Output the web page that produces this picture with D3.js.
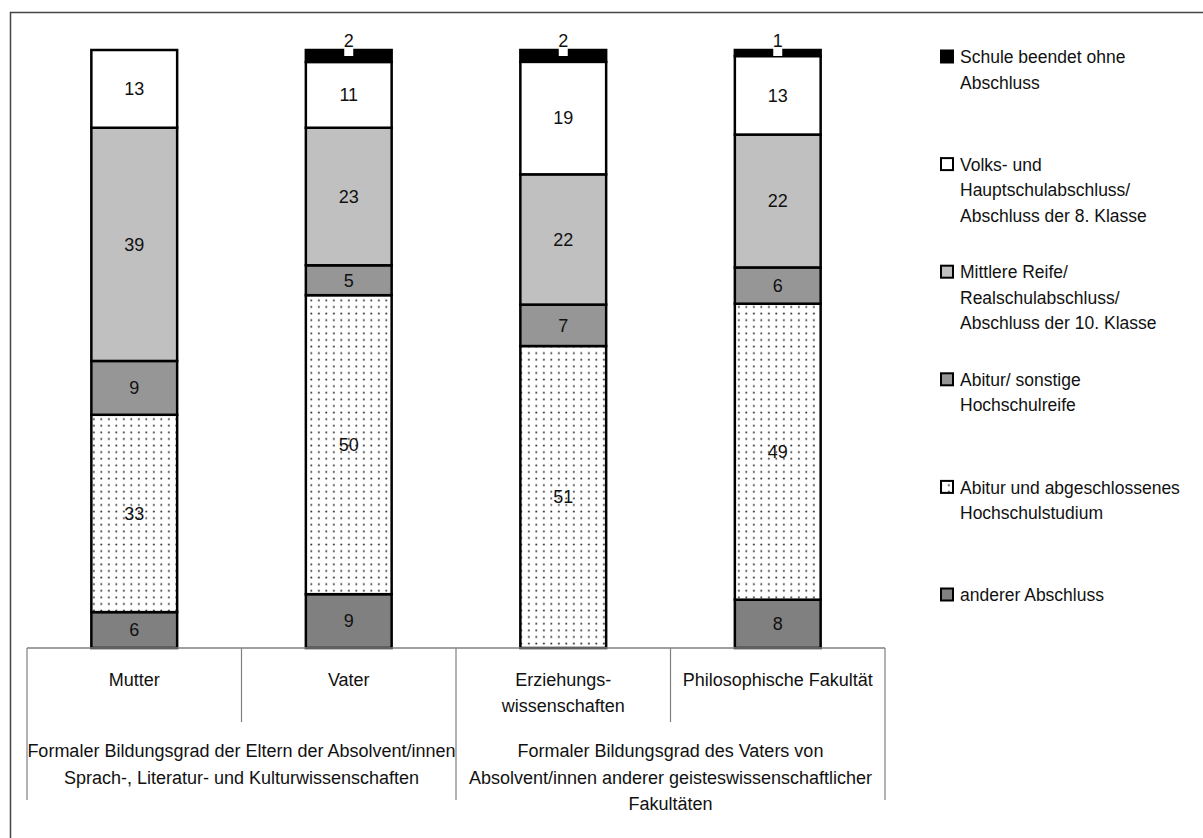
<!DOCTYPE html>
<html>
<head>
<meta charset="utf-8">
<script src="https://cdn.jsdelivr.net/npm/d3@7"></script>
<style>
  html, body { margin: 0; padding: 0; background: #fff; }
  svg { display: block; font-family: "Liberation Sans", Arial, sans-serif; }
</style>
</head>
<body>
<svg id="chart" width="1203" height="838"></svg>
<script>
// Bars (x categories) and their group captions
const categories = ["Mutter", "Vater", "Erziehungswissenschaften", "Philosophische Fakultät"];
const categoryLines = [["Mutter"], ["Vater"], ["Erziehungs-", "wissenschaften"], ["Philosophische Fakultät"]];
const groups = [
  { span: [0, 1], lines: ["Formaler Bildungsgrad der Eltern der Absolvent/innen", "Sprach-, Literatur- und Kulturwissenschaften"] },
  { span: [2, 3], lines: ["Formaler Bildungsgrad des Vaters von", "Absolvent/innen anderer geisteswissenschaftlicher", "Fakultäten"] }
];

// Series, stacked bottom to top
const seriesKeys = ["anderer", "studium", "abitur", "mittlere", "volks", "ohne"];
const seriesLegend = {
  ohne: ["Schule beendet ohne", "Abschluss"],
  volks: ["Volks- und", "Hauptschulabschluss/", "Abschluss der 8. Klasse"],
  mittlere: ["Mittlere Reife/", "Realschulabschluss/", "Abschluss der 10. Klasse"],
  abitur: ["Abitur/ sonstige", "Hochschulreife"],
  studium: ["Abitur und abgeschlossenes", "Hochschulstudium"],
  anderer: ["anderer Abschluss"]
};
const legendOrder = ["ohne", "volks", "mittlere", "abitur", "studium", "anderer"];

// Percent values per category (Mutter, Vater, Erziehungsw., Philosoph. Fak.)
const ohne     = [0, 2, 2, 1];
const volks    = [13, 11, 19, 13];
const mittlere = [39, 23, 22, 22];
const abitur   = [9, 5, 7, 6];
const studium  = [33, 50, 51, 49];
const anderer  = [6, 9, 0, 8];

const valuesByKey = { ohne, volks, mittlere, abitur, studium, anderer };
const table = categories.map((c, i) => {
  const row = { category: c };
  seriesKeys.forEach(k => row[k] = valuesByKey[k][i]);
  return row;
});

const fills = {
  ohne: "#000000",
  volks: "#ffffff",
  mittlere: "#c0c0c0",
  abitur: "#969696",
  studium: "url(#dots)",
  anderer: "#808080"
};

const svg = d3.select("#chart");

// dotted fill for the university-degree segment
const defs = svg.append("defs");
const pat = defs.append("pattern")
  .attr("id", "dots").attr("patternUnits", "userSpaceOnUse")
  .attr("width", 7.5).attr("height", 6.6);
pat.append("rect").attr("width", 7.5).attr("height", 6.6).attr("fill", "#fff");
pat.append("rect").attr("x", 3).attr("y", 2.5).attr("width", 1.7).attr("height", 1.7).attr("fill", "#2a2a2a");

// outer frame
svg.append("path")
  .attr("d", "M10.5,838 V12.5 H1203")
  .attr("fill", "none").attr("stroke", "#444").attr("stroke-width", 1.5);

const baseY = 648, topY = 50;
const x = d3.scaleBand().domain(categories).range([27, 885]).paddingInner(0).paddingOuter(0);
const y = d3.scaleLinear().domain([0, 1]).range([baseY, topY]);
const barW = x.bandwidth() * 0.4;

const stack = d3.stack().keys(seriesKeys).offset(d3.stackOffsetExpand);
const stacked = stack(table);

const layer = svg.append("g").selectAll("g").data(stacked).join("g")
  .attr("fill", d => fills[d.key]);

layer.selectAll("rect").data(d => d.filter(s => s.data[d.key] > 0)).join("rect")
  .attr("x", d => x(d.data.category) + (x.bandwidth() - barW) / 2)
  .attr("y", d => y(d[1]))
  .attr("width", barW)
  .attr("height", d => y(d[0]) - y(d[1]))
  .attr("stroke", "#000").attr("stroke-width", 2.5);

// category axis with separators
const axisG = svg.append("g");
axisG.append("line")
  .attr("x1", 27).attr("x2", 885).attr("y1", baseY).attr("y2", baseY)
  .attr("stroke", "#808080").attr("stroke-width", 1.5);
const bounds = categories.map(c => x(c)).concat([x.range()[1]]);
bounds.forEach((bx, i) => {
  const long = i % 2 === 0;
  axisG.append("line")
    .attr("x1", bx).attr("x2", bx).attr("y1", baseY).attr("y2", long ? 800 : 722)
    .attr("stroke", "#808080").attr("stroke-width", 1.2);
});

// value labels
const labels = svg.append("g").attr("font-size", 18).attr("fill", "#111").attr("text-anchor", "middle");
stacked.forEach(series => {
  series.forEach(s => {
    const v = s.data[series.key];
    if (v <= 0) return;
    const cx = x(s.data.category) + x.bandwidth() / 2;
    const h = y(s[0]) - y(s[1]);
    if (h < 20) {
      // tiny segment: label above the bar with a white box
      const top = y(s[1]);
      labels.append("rect")
        .attr("x", cx - 4.5).attr("y", top - 18).attr("width", 9).attr("height", 24)
        .attr("fill", "#fff");
      labels.append("text").attr("x", cx).attr("y", top - 9)
        .attr("dy", "0.35em").text(v);
    } else {
      labels.append("text").attr("x", cx).attr("y", (y(s[0]) + y(s[1])) / 2)
        .attr("dy", "0.35em").text(v);
    }
  });
});

// category labels
const catG = svg.append("g").attr("font-size", 18).attr("fill", "#111").attr("text-anchor", "middle");
categories.forEach((c, i) => {
  const cx = x(c) + x.bandwidth() / 2;
  categoryLines[i].forEach((ln, j) => {
    catG.append("text").attr("x", cx).attr("y", 680 + j * 26).attr("dy", "0.35em").text(ln);
  });
});
groups.forEach(g => {
  const x0 = x(categories[g.span[0]]);
  const x1 = x(categories[g.span[1]]) + x.bandwidth();
  g.lines.forEach((ln, j) => {
    catG.append("text").attr("x", (x0 + x1) / 2).attr("y", 751 + j * 26.5).attr("dy", "0.35em").text(ln);
  });
});

// legend
const legend = svg.append("g").attr("font-size", 17.5).attr("fill", "#111");
legendOrder.forEach((k, i) => {
  const ly = 57 + i * 107.6;
  legend.append("rect")
    .attr("x", 941).attr("y", ly - 6.5).attr("width", 12).attr("height", 12)
    .attr("fill", fills[k]).attr("stroke", "#000").attr("stroke-width", 2);
  seriesLegend[k].forEach((ln, j) => {
    legend.append("text").attr("x", 960).attr("y", ly + j * 25.5).attr("dy", "0.35em").text(ln);
  });
});
</script>
</body>
</html>
